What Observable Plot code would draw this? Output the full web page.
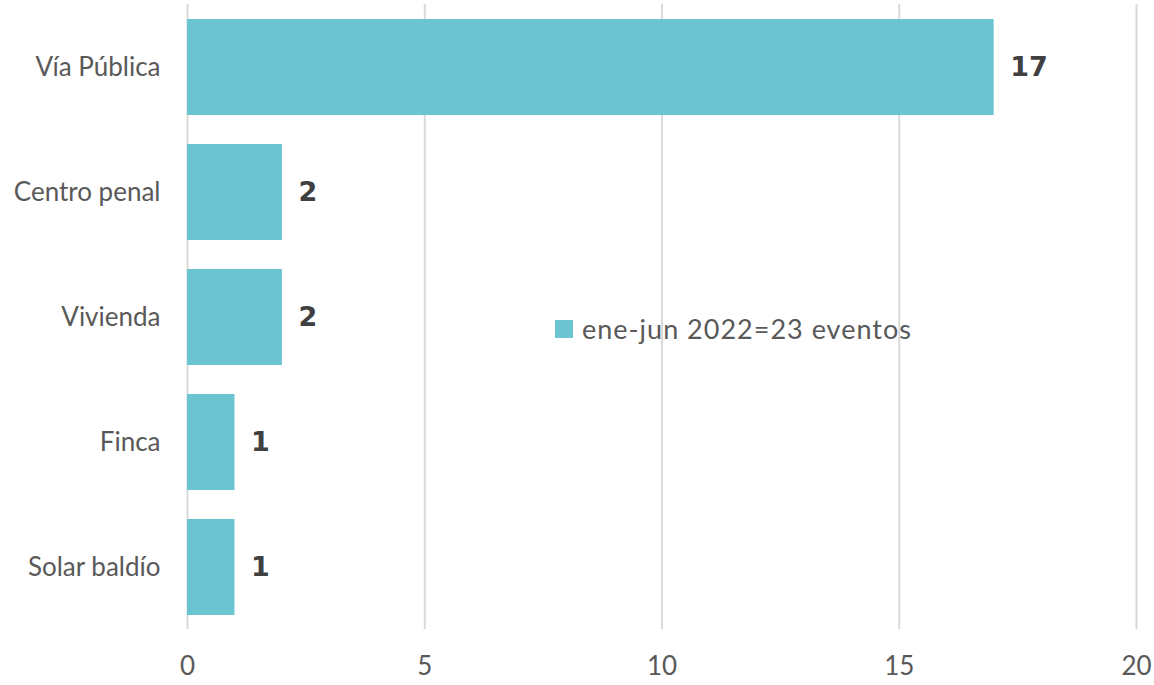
<!DOCTYPE html>
<html>
<head>
<meta charset="utf-8">
<script src="https://cdn.jsdelivr.net/npm/d3@7"></script>
<script src="https://cdn.jsdelivr.net/npm/@observablehq/plot@0.6"></script>
<style>
  html, body { margin: 0; padding: 0; background: #fff; }
  #wrap { position: relative; width: 1154px; height: 685px; }
  #legend { position: absolute; left: 555px; top: 312px; font-family: Lato, "Open Sans", sans-serif; font-size: 27px; letter-spacing: 1px; color: #595959; display: flex; align-items: center; white-space: nowrap; }
  #legend .sw { width: 18px; height: 18px; background: #6BC5D0; margin-right: 9px; }
</style>
</head>
<body>
<div id="wrap"><div id="legend"><span class="sw"></span><span>ene-jun 2022=23 eventos</span></div></div>
<script>
const categories = ["Vía Pública", "Centro penal", "Vivienda", "Finca", "Solar baldío"];
const values = [17, 2, 2, 1, 1];
const xTicks = [0, 5, 10, 15, 20];

const data = categories.map((c, i) => ({category: c, value: values[i]}));

const chart = Plot.plot({
  width: 1154,
  height: 685,
  marginLeft: 187,
  marginRight: 18,
  marginTop: 4,
  marginBottom: 56,
  style: {fontFamily: "Lato, 'Open Sans', sans-serif", fontSize: "26px", color: "#595959", background: "#fff"},
  x: {domain: [0, 20], label: null},
  y: {domain: categories, label: null, paddingInner: 0.233, paddingOuter: 0.1165},
  marks: [
    Plot.ruleX(xTicks, {stroke: "#d9d9d9", strokeWidth: 2}),
    Plot.barX(data, {x: "value", y: "category", fill: "#6BC5D0"}),
    Plot.text(data, {x: "value", y: "category", text: d => String(d.value), textAnchor: "start", dx: 16,
      fontFamily: "'DejaVu Sans', sans-serif", fontWeight: "bold", fontSize: 27, fill: "#404040"}),
    Plot.axisX({ticks: xTicks, tickSize: 0, tickPadding: 27, fontSize: 26, label: null}),
    Plot.axisY({tickSize: 0, tickPadding: 27, fontSize: 26, label: null})
  ]
});
document.getElementById("wrap").prepend(chart);
chart.style.position = "absolute";
chart.style.left = "0";
chart.style.top = "0";
</script>
</body>
</html>
